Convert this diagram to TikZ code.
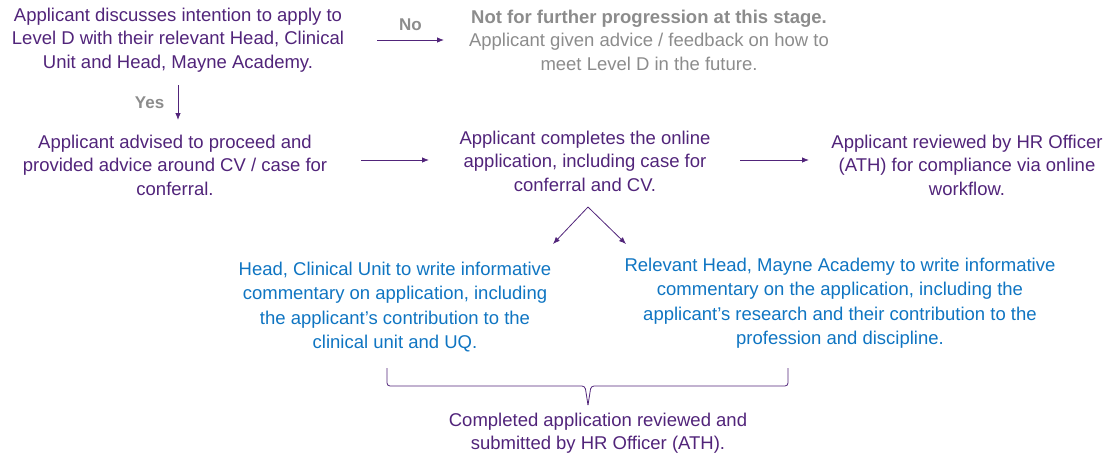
\documentclass[tikz,border=0pt]{standalone}
\usepackage{fontspec}
\setmainfont{Liberation Sans}
\usetikzlibrary{arrows.meta}

\definecolor{uqpurple}{HTML}{51247A}
\definecolor{uqgray}{HTML}{8C8C8C}
\definecolor{uqblue}{HTML}{0F75C2}

\tikzset{
  stepbox/.style={align=center, inner sep=0pt, text=uqpurple,
    font=\fontsize{18.5}{23.5}\selectfont},
  notebox/.style={stepbox, text=uqgray},
  headbox/.style={stepbox, text=uqblue, font=\fontsize{18.5}{24.5}\selectfont},
  flow/.style={->, uqpurple, line width=0.8pt},
  answer/.style={text=uqgray, font=\fontsize{17}{20}\selectfont\bfseries}
}

\begin{document}
\begin{tikzpicture}[x=1pt, y=-1pt, >={Latex[length=7pt,width=5.5pt]}]
  \useasboundingbox (0,0) rectangle (1117,459);

  \node[stepbox] (discuss) at (178,40) {Applicant discusses intention to apply to\\Level D with their relevant Head, Clinical\\Unit and Head, Mayne Academy.};
  \node[notebox] (stop) at (649,40) {\textbf{Not for further progression at this stage.}\\Applicant given advice / feedback on how to\\meet Level D in the future.};
  \node[stepbox] (advise) at (175,165) {Applicant advised to proceed and\\provided advice around CV / case for\\conferral.};
  \node[stepbox] (online) at (585,161) {Applicant completes the online\\application, including case for\\conferral and CV.};
  \node[stepbox] (review) at (967,165) {Applicant reviewed by HR Officer\\(ATH) for compliance via online\\workflow.};
  \node[headbox] (clinic) at (395,307) {Head, Clinical Unit to write informative\\commentary on application, including\\the applicant’s contribution to the\\clinical unit and UQ.};
  \node[headbox] (mayne) at (840,303) {Relevant Head, Mayne Academy to write informative\\commentary on the application, including the\\applicant’s research and their contribution to the\\profession and discipline.};
  \node[stepbox] (submit) at (598,433) {Completed application reviewed and\\submitted by HR Officer (ATH).};

  % decisions
  \coordinate (no0) at (377,40);
  \coordinate (no1) at (444,40);
  \draw[flow] (no0) -- (no1) node[answer, midway, above=6pt] {No};
  \coordinate (yes0) at (178,85);
  \coordinate (yes1) at (178,120);
  \draw[flow] (yes0) -- (yes1) node[answer, midway, left=10pt] {Yes};

  % main row
  \coordinate (row0) at (361,160);
  \coordinate (row1) at (429,160);
  \coordinate (row2) at (740,160);
  \coordinate (row3) at (809,160);
  \draw[flow] (row0) -- (row1);
  \draw[flow] (row2) -- (row3);

  % fork
  \coordinate (fork) at (588,207);
  \coordinate (forkl) at (553,244);
  \coordinate (forkr) at (626,244);
  \draw[flow] (fork) -- (forkl);
  \draw[flow] (fork) -- (forkr);

  % bracket
  \draw[uqpurple, line width=0.8pt, rounded corners=3pt]
    (387,368) -- (387,386) -- (585,386) -- (588,405);
  \draw[uqpurple, line width=0.8pt, rounded corners=3pt]
    (588,405) -- (591,386) -- (788,386) -- (788,368);
\end{tikzpicture}
\end{document}
